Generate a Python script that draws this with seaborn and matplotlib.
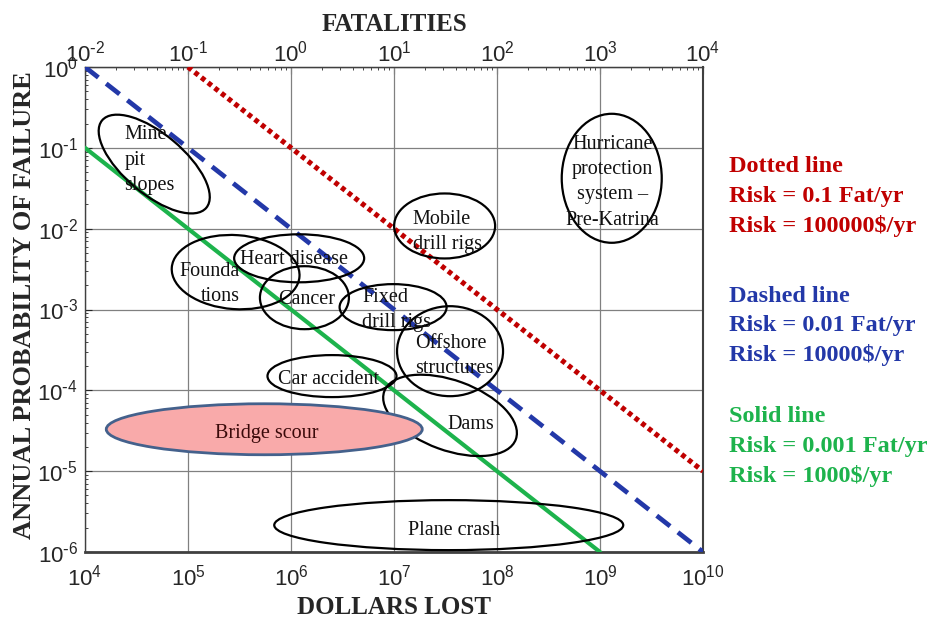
import numpy as np
import pandas as pd
import seaborn as sns
import matplotlib
matplotlib.use("Agg")
import matplotlib.pyplot as plt
from matplotlib.patches import Ellipse
from matplotlib.transforms import IdentityTransform
from matplotlib.ticker import FuncFormatter

# ---- risk iso-lines (probability x consequence = constant) ----
line_names = ["Dotted line", "Dashed line", "Solid line"]
risk_fatalities = ["0.1", "0.01", "0.001"]
risk_dollars = [100000, 10000, 1000]
line_x_start = [1e5, 1e4, 1e4]
line_x_end = [1e10, 1e10, 1e9]

# ---- hazard regions ----
hazard_labels = [
    "Mine\npit\nslopes", "Founda\ntions", "Heart disease", "Cancer",
    "Fixed\ndrill rigs", "Mobile\ndrill rigs",
    "Hurricane\nprotection\nsystem \u2013\nPre-Katrina",
    "Offshore\nstructures", "Dams", "Car accident", "Bridge scour", "Plane crash",
]
hazard_dollars = [4.7e4, 2.9e5, 1.2e6, 1.35e6, 9.8e6, 3.1e7, 1.3e9,
                  3.5e7, 3.5e7, 2.5e6, 5.5e5, 3.4e7]
hazard_prob = [6.3e-2, 2.9e-3, 4.3e-3, 1.4e-3, 1.07e-3, 1.08e-2, 4.2e-2,
               3.05e-4, 4.9e-5, 1.5e-4, 3.3e-5, 2.15e-6]

# ellipse size in pixels (width, height, angle) and label placement
ellipse_shape = [(136, 60, -40), (128, 74, -4), (130, 48, 0), (89, 63, 0),
                 (107, 46, 0), (101, 65, 0), (100, 129, 0), (106, 90, 0),
                 (140, 70, -20), (129, 42, 0), (316, 51, 0), (349, 50, 0)]
label_offset = [(-30, 4, "left"), (4, -12, "right"), (-5, -1, "center"),
                (2, -2, "center"), (-31, -3, "left"), (-32, -6, "left"),
                (1, -4, "center"), (-35, -5, "left"), (21, -9, "center"),
                (-3, -3, "center"), (2, -4, "center"), (5, -5, "center")]

RED = "#C00000"
BLUE = "#2338A8"
GREEN = "#1DB34C"
line_colors = [RED, BLUE, GREEN]
line_widths = [3.7, 3.4, 3.0]
line_styles = [(0, (0.9, 0.75)), (0, (3.6, 2.1)), "-"]

sns.set_style("ticks")
plt.rcParams["font.family"] = ["Liberation Sans", "DejaVu Sans"]
plt.rcParams["mathtext.default"] = "regular"
plt.rcParams["axes.unicode_minus"] = False
SERIF = ["Liberation Serif", "DejaVu Serif"]


def decade_label(v, pos):
    e = int(round(np.log10(v)))
    exp = r"\text{-}%d" % (-e) if e < 0 else "%d" % e
    return r"$\mathdefault{10^{%s}}$" % exp


W, H = 929, 623
fig = plt.figure(figsize=(W / 100, H / 100), dpi=100)
ax = fig.add_axes([85 / W, 1 - 552 / H, (703 - 85) / W, (552 - 67) / H])
ax.set_xscale("log")
ax.set_yscale("log")
ax.set_xlim(1e4, 1e10)
ax.set_ylim(1e-6, 1e0)

ax.grid(True, which="major", color="#808080", lw=0.9)
ax.set_axisbelow(True)

# risk lines
for name, r, x0, x1, c, lw, ls in zip(line_names, risk_dollars, line_x_start,
                                      line_x_end, line_colors, line_widths,
                                      line_styles):
    xs = [x0, x1]
    ys = [r / x0, r / x1]
    sns.lineplot(x=xs, y=ys, ax=ax, color=c, lw=lw, linestyle=ls,
                 dash_capstyle="butt", zorder=3)

# hazard ellipses, sized in screen pixels so they keep their shape
for lab, dx, pr, (w, h, ang), (ox, oy, ha) in zip(
        hazard_labels, hazard_dollars, hazard_prob, ellipse_shape, label_offset):
    cx, cy = ax.transData.transform((dx, pr))
    if lab == "Bridge scour":
        e = Ellipse((cx, cy), w, h, angle=ang, transform=IdentityTransform(),
                    facecolor="#F9AAAA", edgecolor="#44618C", lw=2.0, zorder=4)
        tcolor = "#3A0A0A"
    else:
        e = Ellipse((cx, cy), w, h, angle=ang, transform=IdentityTransform(),
                    facecolor="none", edgecolor="black", lw=1.6, zorder=4)
        tcolor = "#111111"
    ax.add_patch(e)
    ax.annotate(lab, xy=(dx, pr), xytext=(ox, oy), textcoords="offset pixels",
                ha=ha, va="center", multialignment=ha, fontsize=14.5,
                family=SERIF, color=tcolor, linespacing=1.45, zorder=5)

# axes frame and ticks
for s in ax.spines.values():
    s.set_color("#404040")
    s.set_linewidth(1.0)
ax.spines["bottom"].set_linewidth(2.0)
ax.spines["right"].set_linewidth(1.5)

ax.xaxis.set_major_formatter(FuncFormatter(decade_label))
ax.yaxis.set_major_formatter(FuncFormatter(decade_label))
ax.tick_params(axis="x", which="both", length=0, labelsize=16, pad=9)
ax.tick_params(axis="y", which="major", direction="in", length=5,
               labelsize=16, pad=5, right=False)
ax.tick_params(axis="y", which="minor", direction="in", length=2.5, right=False)

sec = ax.secondary_xaxis("top", functions=(lambda d: d / 1e6, lambda f: f * 1e6))
sec.xaxis.set_major_formatter(FuncFormatter(decade_label))
sec.tick_params(axis="x", which="major", direction="in", length=5,
                labelsize=16, pad=0)
sec.tick_params(axis="x", which="minor", direction="in", length=2.5)
sec.set_xlabel("FATALITIES", family=SERIF, fontweight="bold", fontsize=18,
               labelpad=7)

ax.set_xlabel("DOLLARS LOST", family=SERIF, fontweight="bold", fontsize=18,
              labelpad=4)
ax.set_ylabel("ANNUAL PROBABILITY OF FAILURE", family=SERIF,
              fontweight="bold", fontsize=19)
ax.yaxis.set_label_coords((36 - 85) / (703 - 85), 0.51)

# explanatory notes for the three risk lines
note_top = [167, 296, 417]
for name, rf, rd, c, y0 in zip(line_names, risk_fatalities, risk_dollars,
                                line_colors, note_top):
    lines = [name, f"Risk = {rf} Fat/yr", f"Risk = {rd}\\$/yr"]
    for i, t in enumerate(lines):
        fig.text(729 / W, 1 - (y0 + 29.5 * i) / H, t, color=c, family=SERIF,
                 fontweight="bold", fontsize=17.5, ha="left", va="center")

fig.savefig("out.png", dpi=100)
